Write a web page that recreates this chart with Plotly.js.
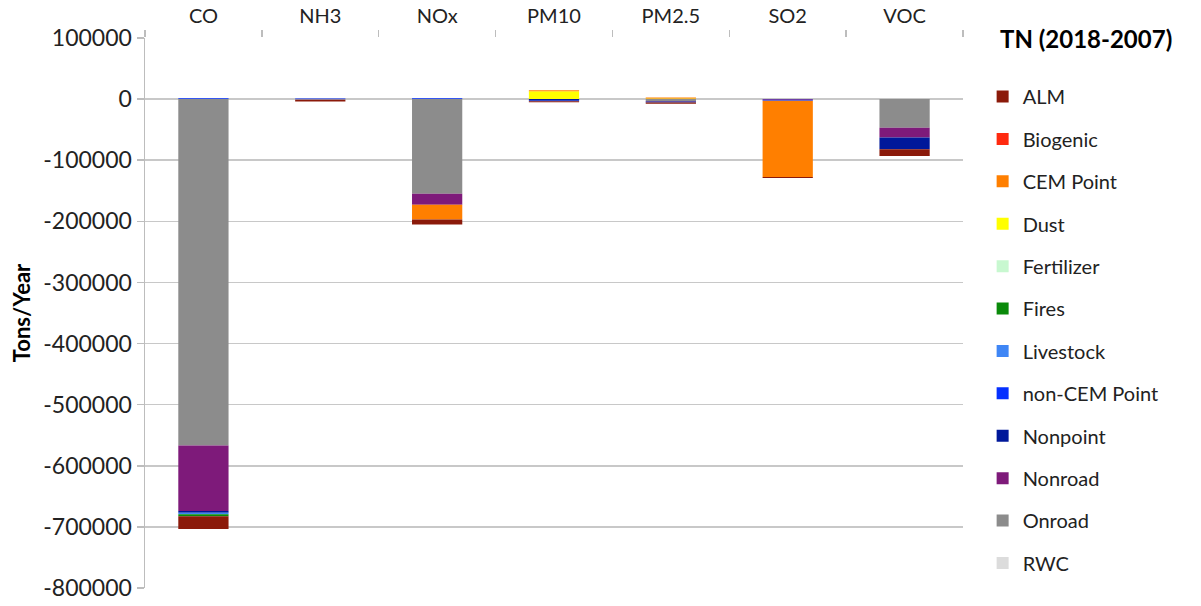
<!DOCTYPE html>
<html>
<head>
<meta charset="utf-8">
<script src="https://cdn.plot.ly/plotly-3.0.1.min.js"></script>
<style>html,body{margin:0;padding:0;background:#fff;}#chart{width:1201px;height:606px;}</style>
</head>
<body>
<div id="chart"></div>
<script>
// Categories (pollutants)
const categories = ['CO', 'NH3', 'NOx', 'PM10', 'PM2.5', 'SO2', 'VOC'];

// Source sectors, in stacking order (nearest zero first)
const sectorNames = ['RWC', 'Onroad', 'Nonroad', 'Nonpoint', 'non-CEM Point', 'Livestock',
                     'Fires', 'Fertilizer', 'Dust', 'CEM Point', 'Biogenic', 'ALM'];

// Change in emissions, tons/year (2018 minus 2007), per category
const rwc        = [0, 0, 0, 0, 0, 0, 0];
const onroad     = [-567000, -1000, -155000, 0, -3000, 0, -47000];
const nonroad    = [-107000, -500, -18000, 0, -1000, -1000, -16000];
const nonpoint   = [-3000, 0, 0, -2500, -1500, 0, -19000];
const nonCEM     = [1500, 1000, 1500, -1000, 0, -1500, 0];
const livestock  = [-2500, 0, 0, 0, 0, 0, 0];
const fires      = [-3000, 0, 0, 0, 0, 0, 0];
const fertilizer = [0, 0, 0, 0, 0, 0, 0];
const dust       = [0, 0, 0, 13000, 1000, 0, 0];
const cemPoint   = [0, 0, -24000, 1500, 1500, -125000, 0];
const biogenic   = [0, 0, 0, 0, 0, 0, 0];
const alm        = [-21000, -2500, -8000, -1500, -2000, -1500, -11000];

const sectorValues = [rwc, onroad, nonroad, nonpoint, nonCEM, livestock,
                      fires, fertilizer, dust, cemPoint, biogenic, alm];
const sectorColors = ['#DCDCDC', '#8C8C8C', '#7E1A7A', '#00189A', '#0530FF', '#3F86F5',
                      '#0A8A0A', '#C8F8D0', '#FFFF00', '#FF7F00', '#FF2A0F', '#8B1A0A'];

const yTickVals = [100000, 0, -100000, -200000, -300000, -400000, -500000, -600000, -700000, -800000];

const FONT = 'Lato, "Open Sans", sans-serif';

const traces = sectorNames.map((name, i) => ({
  type: 'bar',
  name: name,
  x: categories,
  y: sectorValues[i],
  legendgroup: name,
  legendrank: sectorNames.length - i,
  marker: {color: sectorColors[i], line: {width: 0}}
}));

const layout = {
  width: 1201,
  height: 606,
  margin: {l: 145, r: 238, t: 38, b: 18, autoexpand: false},
  paper_bgcolor: '#ffffff',
  plot_bgcolor: '#ffffff',
  barmode: 'relative',
  bargap: 0.57,
  font: {family: FONT, color: '#222222', size: 20},
  showlegend: true,
  legend: {
    x: 1.024, xanchor: 'left',
    y: 0.929, yanchor: 'top',
    traceorder: 'grouped',
    tracegroupgap: 13.4,
    maxheight: 600,
    font: {family: FONT, size: 20, color: '#222222'},
    bgcolor: 'rgba(0,0,0,0)'
  },
  xaxis: {
    type: 'category',
    side: 'top',
    tickson: 'boundaries',
    ticks: 'outside',
    ticklen: 7,
    tickcolor: '#BDBDBD',
    tickwidth: 1.5,
    ticklabelstandoff: 10,
    showline: false,
    showgrid: false,
    zeroline: false,
    tickfont: {family: FONT, size: 20, color: '#222222'},
    fixedrange: true
  },
  yaxis: {
    range: [-800000, 100000],
    tickvals: yTickVals,
    ticktext: yTickVals.map(v => String(v)),
    ticks: 'outside',
    ticklen: 7,
    tickcolor: '#BDBDBD',
    tickwidth: 1.5,
    showline: true,
    linecolor: '#BDBDBD',
    linewidth: 1.5,
    showgrid: true,
    gridcolor: '#C8C8C8',
    gridwidth: 1.5,
    zeroline: false,
    tickfont: {family: FONT, size: 23, color: '#222222'},
    title: {text: '<b>Tons/Year</b>', font: {family: FONT, size: 22, color: '#000000'}, standoff: 6},
    fixedrange: true
  },
  annotations: [{
    text: '<b>TN (2018-2007)</b>',
    xref: 'paper', yref: 'paper',
    x: 1.043, xanchor: 'left',
    y: 1.0, yanchor: 'middle',
    showarrow: false,
    font: {family: FONT, size: 24, color: '#000000'}
  }]
};

Plotly.newPlot('chart', traces, layout, {displayModeBar: false, staticPlot: true});
</script>
</body>
</html>
